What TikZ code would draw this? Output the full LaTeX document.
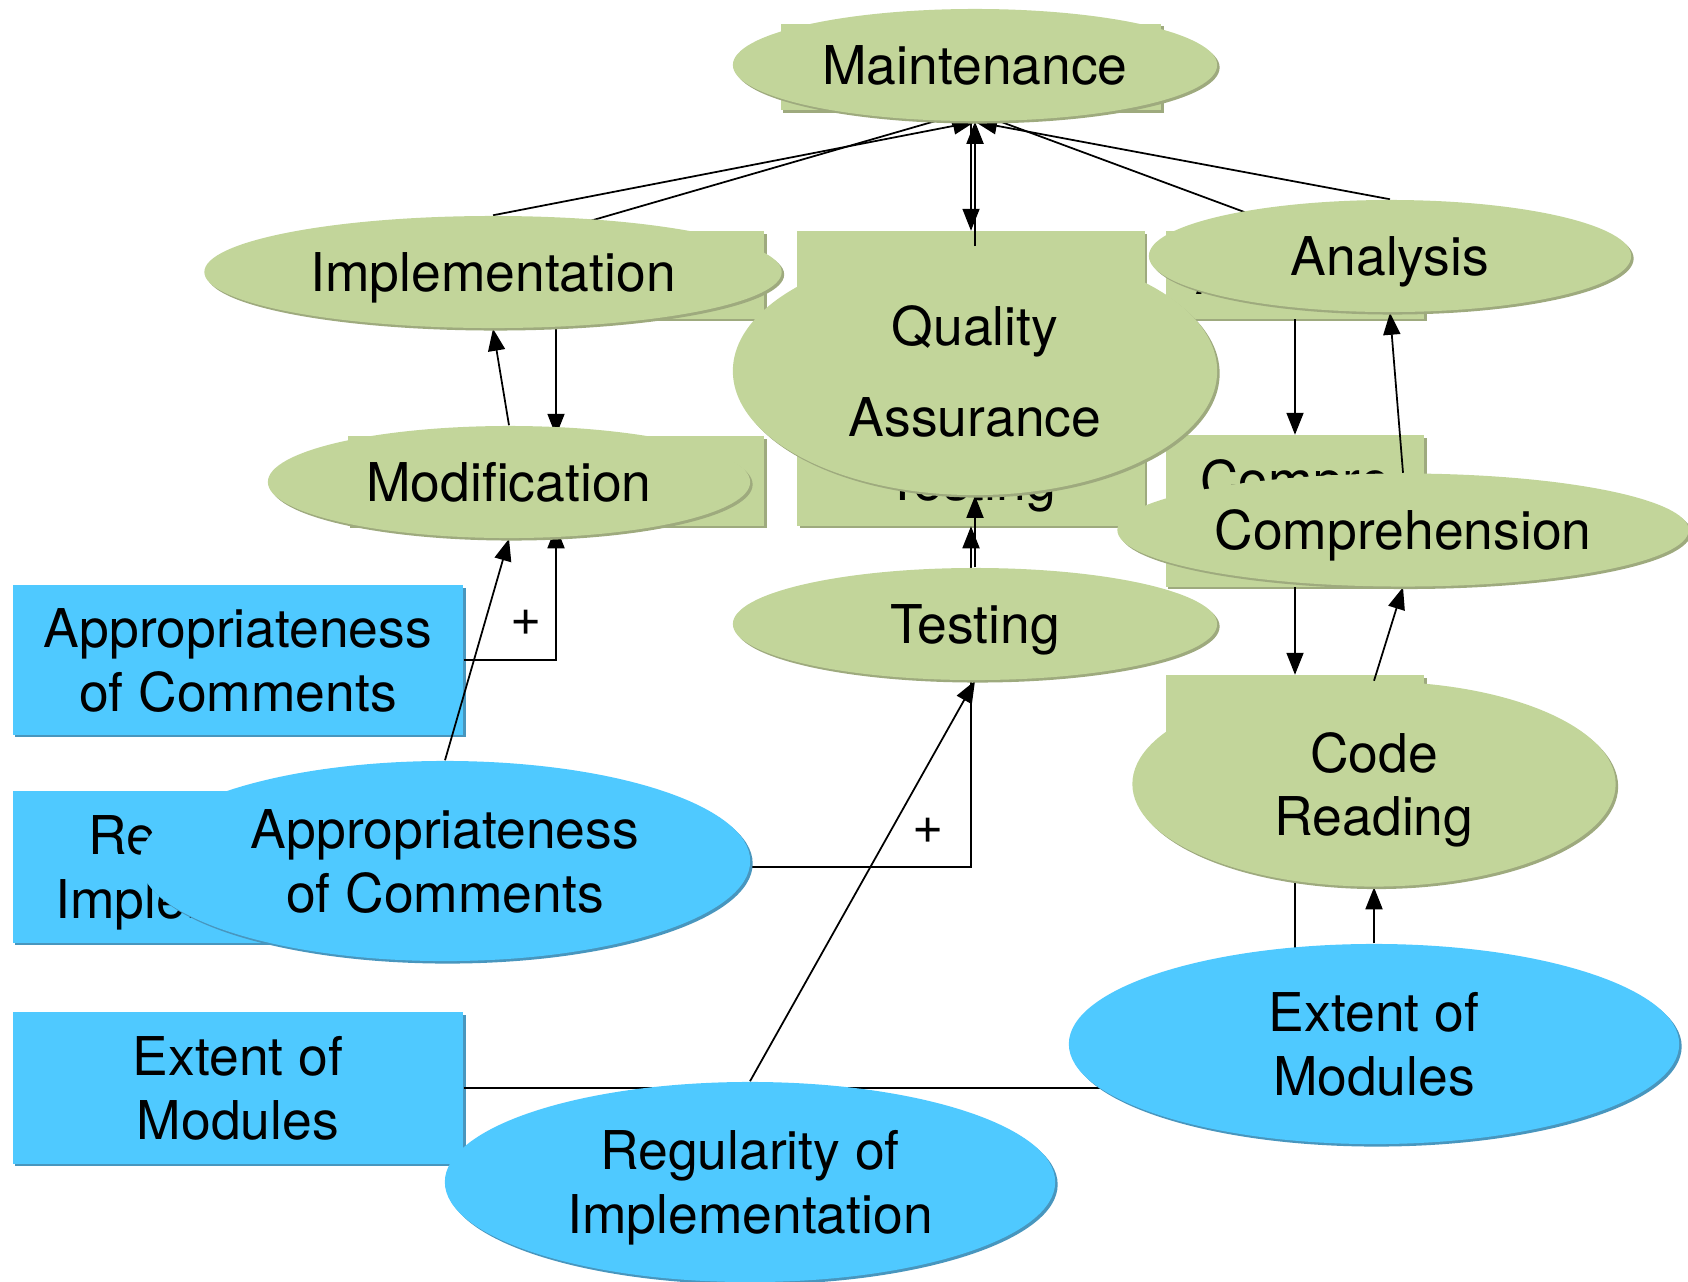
\documentclass[tikz,border=0pt]{standalone}
\usepackage{fontspec}
\setmainfont{TeX Gyre Heros}
\usetikzlibrary{shapes.geometric,shadows,arrows.meta}

\definecolor{leafgreen}{RGB}{194,213,154}
\definecolor{leafshade}{RGB}{158,170,126}
\definecolor{skyblue}{RGB}{79,201,255}
\definecolor{skyshade}{RGB}{72,150,190}

\pgfdeclarelayer{back}
\pgfdeclarelayer{mid}
\pgfsetlayers{back,mid,main}

\tikzset{
	every node/.style={font=\fontsize{15.2}{18}\selectfont},
	greenbox/.style={rectangle,inner sep=0pt,align=center,text depth=0pt,fill=leafgreen,
		drop shadow={shadow xshift=0.025cm,shadow yshift=-0.025cm,fill=leafshade,opacity=1}},
	bluebox/.style={rectangle,inner sep=0pt,align=center,text depth=0pt,fill=skyblue,
		drop shadow={shadow xshift=0.025cm,shadow yshift=-0.025cm,fill=skyshade,opacity=1}},
	greenoval/.style={ellipse,inner sep=0pt,align=center,text depth=0pt,fill=leafgreen,
		drop shadow={shadow xshift=0.025cm,shadow yshift=-0.025cm,fill=leafshade,opacity=1}},
	blueoval/.style={ellipse,inner sep=0pt,align=center,text depth=0pt,fill=skyblue,
		drop shadow={shadow xshift=0.025cm,shadow yshift=-0.025cm,fill=skyshade,opacity=1}},
	link/.style={-{Triangle[length=0.22cm,width=0.17cm]},line width=0.5pt}
}

\begin{document}
\begin{tikzpicture}[x=0.01cm,y=-0.01cm]
		\useasboundingbox (0,0) rectangle (1688,1281);
		\begin{pgfonlayer}{back}
		\node[greenbox,minimum width=3.8cm,minimum height=0.86cm] (maintR) at (971,67) {};
		\node[greenbox,minimum width=4.16cm,minimum height=0.87cm] (implR) at (556,275) {};
		\node[greenbox,minimum width=3.47cm,minimum height=0.87cm] (qaR) at (971,275) {};
		\node[greenbox,minimum width=2.58cm,minimum height=0.87cm] (analR) at (1295,275) {Analysis};
		\node[greenbox,minimum width=4.16cm,minimum height=0.89cm] (modR) at (556,481) {};
		\node[greenbox,minimum width=3.47cm,minimum height=0.89cm] (testR) at (971,481) {Testing};
		\node[greenbox,minimum width=2.58cm,minimum height=1.51cm] (compR) at (1295,511) {Compre\\hension};
		\node[greenbox,minimum width=2.58cm,minimum height=1.51cm] (codeR) at (1295,751) {};
		\node[bluebox,minimum width=4.5cm,minimum height=1.49cm] (commR) at (238,660) {Appropriateness\\of Comments};
		\node[bluebox,minimum width=4.5cm,minimum height=1.51cm] (regR) at (238,867) {Regularity of\\Implementation};
		\node[bluebox,minimum width=4.5cm,minimum height=1.51cm] (extR) at (238,1088) {Extent of\\Modules};
		\end{pgfonlayer}

		\node[greenoval,minimum width=4.84cm,minimum height=1.12cm] (maint) at (975,65) {Maintenance};
		\node[greenoval,minimum width=5.77cm,minimum height=1.12cm] (impl) at (493,272) {Implementation};
		\node[greenoval,minimum width=4.84cm,minimum height=2.48cm] (qa) at (975,371) {Quality\\[8pt]Assurance};
		\node[greenoval,minimum width=4.82cm,minimum height=1.12cm] (anal) at (1390,256) {Analysis};
		\node[greenoval,minimum width=4.82cm,minimum height=1.12cm] (mod) at (509,482) {Modification};
		\node[greenoval,minimum width=4.84cm,minimum height=1.12cm] (test) at (975,624) {Testing};
		\node[greenoval,minimum width=5.71cm,minimum height=1.13cm] (comp) at (1403,530) {Comprehension};
		\node[greenoval,minimum width=4.83cm,minimum height=2.05cm] (code) at (1374,784) {Code\\Reading};
		\node[blueoval,minimum width=6.1cm,minimum height=2cm] (comm) at (445,861) {Appropriateness\\of Comments};
		\node[blueoval,minimum width=6.1cm,minimum height=2cm] (reg) at (750,1182) {Regularity of\\Implementation};
		\node[blueoval,minimum width=6.1cm,minimum height=2cm] (ext) at (1374,1044) {Extent of\\Modules};

		\begin{pgfonlayer}{mid}
		\draw[link] (implR.north) -- (maintR.south);
		\draw[link] (analR.north) -- (maintR.south);
		\draw[link] (maintR.south) -- (qaR.north);
		\draw[link] (implR.south) -- (modR.north);
		\draw[link] (analR.south) -- (compR.north);
		\draw[link] (compR.south) -- (codeR.north);
		\draw[link] (commR.east) -| node[pos=0.64,left=0.02cm] {+} (modR.south);
		\draw[link] (regR.east) -| node[pos=0.553,left=0.15cm] {+} (testR.south);
		\draw[link] (extR.east) -| (codeR.south);
		\draw[link] (impl.north) -- (maint.south);
		\draw[link] (qa.north) -- (maint.south);
		\draw[link] (anal.north) -- (maint.south);
		\draw[link] (mod.north) -- (impl.south);
		\draw[link] (test.north) -- (qa.south);
		\draw[link] (comp.north) -- (anal.south);
		\draw[link] (code.north) -- (comp.south);
		\draw[link] (comm.north) -- (mod.south);
		\draw[link] (reg.north) -- (test.south);
		\draw[link] (ext.north) -- (code.south);
		\end{pgfonlayer}
	\end{tikzpicture}
\end{document}
